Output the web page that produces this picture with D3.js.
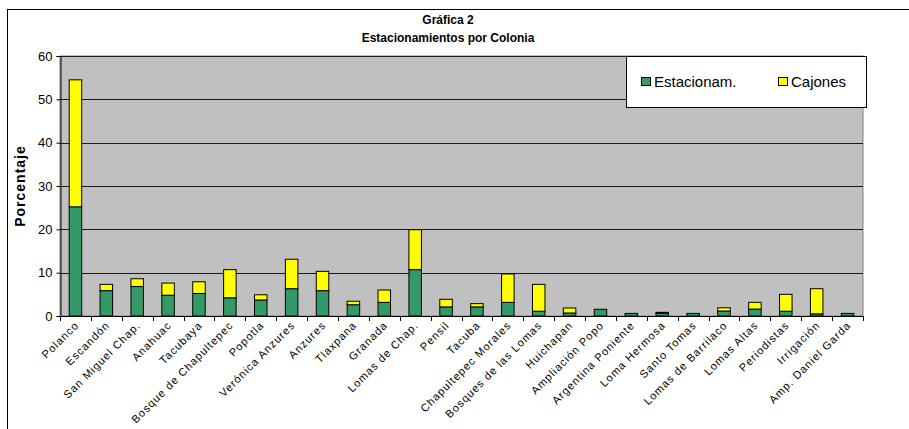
<!DOCTYPE html>
<html>
<head>
<meta charset="utf-8">
<script src="https://cdn.jsdelivr.net/npm/d3@7"></script>
<style>
  html, body { margin: 0; padding: 0; background: #fff; }
  svg { display: block; font-family: Arial, "Liberation Sans", sans-serif; }
</style>
</head>
<body>
<svg id="chart" width="909" height="429"></svg>
<script>
// Colonias (categories)
const colonias = [
  "Polanco", "Escandón", "San Miguel Chap.", "Anahuac", "Tacubaya",
  "Bosque de Chapultepec", "Popotla", "Verónica Anzures", "Anzures", "Tlaxpana",
  "Granada", "Lomas de Chap.", "Pensil", "Tacuba", "Chapultepec Morales",
  "Bosques de las Lomas", "Huichapan", "Ampliación Popo", "Argentina Poniente",
  "Loma Hermosa", "Santo Tomas", "Lomas de Barrilaco", "Lomas Altas",
  "Periodistas", "Irrigación", "Amp. Daniel Garda"
];
// Porcentaje de estacionamientos
const estacionam = [25.2, 5.85, 6.8, 4.8, 5.2, 4.2, 3.7, 6.3, 5.85, 2.6,
  3.15, 10.7, 2.1, 2.1, 3.15, 1.1, 0.7, 1.55, 0.6, 0.65,
  0.6, 1.15, 1.6, 1.1, 0.5, 0.6];
// Porcentaje de cajones
const cajones = [29.3, 1.45, 1.8, 2.8, 2.7, 6.5, 1.2, 6.8, 4.45, 0.8,
  2.85, 9.2, 1.75, 0.75, 6.55, 6.2, 1.15, 0, 0, 0.2,
  0, 0.75, 1.55, 3.9, 5.8, 0];
const yTicks = [0, 10, 20, 30, 40, 50, 60];
const seriesNames = ["Estacionam.", "Cajones"];
const seriesColors = ["#339966", "#FFFF00"];

const svg = d3.select("#chart");

// outer chart frame
svg.append("rect")
  .attr("x", 7.5).attr("y", 9.5)
  .attr("width", 1000).attr("height", 1000)
  .attr("fill", "#fff").attr("stroke", "#000").attr("stroke-width", 1);

const plot = { left: 60, right: 863, top: 56, bottom: 316 };

const x = d3.scaleBand().domain(colonias).range([plot.left, plot.right]).paddingInner(0).paddingOuter(0);
const y = d3.scaleLinear().domain([0, 60]).range([plot.bottom, plot.top]);
const barW = x.bandwidth() * 0.405;

// plot background
svg.append("rect")
  .attr("x", plot.left).attr("y", plot.top)
  .attr("width", plot.right - plot.left).attr("height", plot.bottom - plot.top)
  .attr("fill", "#C0C0C0").attr("stroke", "#808080");

// gridlines
svg.append("g").selectAll("line").data(yTicks.filter(d => d > 0)).join("line")
  .attr("x1", plot.left).attr("x2", plot.right)
  .attr("y1", d => Math.round(y(d)) + 0.5).attr("y2", d => Math.round(y(d)) + 0.5)
  .attr("stroke", "#1a1a1a").attr("stroke-width", 1);

// stacked data
const rows = colonias.map((c, i) => ({ colonia: c, estacionam: estacionam[i], cajones: cajones[i] }));
const stack = d3.stack().keys(["estacionam", "cajones"])(rows);

svg.append("g").selectAll("g").data(stack).join("g")
  .attr("fill", (d, i) => seriesColors[i])
  .selectAll("rect").data(d => d.filter(s => s[1] - s[0] > 0)).join("rect")
  .attr("x", d => x(d.data.colonia) + (x.bandwidth() - barW) / 2)
  .attr("width", barW)
  .attr("y", d => y(d[1]))
  .attr("height", d => y(d[0]) - y(d[1]))
  .attr("stroke", "#000").attr("stroke-width", 1);

// y axis
const yAxis = d3.axisLeft(y).tickValues(yTicks).tickSize(4).tickPadding(4);
const gy = svg.append("g").attr("transform", `translate(${plot.left + 0.5},0)`).call(yAxis);
gy.select(".domain").attr("stroke", "#000");
gy.selectAll(".tick line").attr("stroke", "#000");
gy.selectAll(".tick text").attr("font-size", 13).attr("fill", "#000")
  .attr("font-family", "Arial, 'Liberation Sans', sans-serif");

// x axis: ticks at category boundaries
const gx = svg.append("g");
gx.append("line")
  .attr("x1", plot.left).attr("x2", plot.right)
  .attr("y1", plot.bottom + 0.5).attr("y2", plot.bottom + 0.5)
  .attr("stroke", "#000");
const bounds = colonias.map(c => x(c)).concat([plot.right]);
gx.selectAll("line.tk").data(bounds).join("line").attr("class", "tk")
  .attr("x1", d => Math.round(d) + 0.5).attr("x2", d => Math.round(d) + 0.5)
  .attr("y1", plot.bottom).attr("y2", plot.bottom + 5)
  .attr("stroke", "#000");
gx.selectAll("text").data(colonias).join("text")
  .attr("transform", d => `translate(${x(d) + x.bandwidth() / 2 + 4},${plot.bottom + 10}) rotate(-45)`)
  .attr("text-anchor", "end")
  .attr("font-size", 11)
  .attr("letter-spacing", 1)
  .attr("fill", "#000")
  .text(d => d);

// y axis title
svg.append("text")
  .attr("transform", `translate(25,${(plot.top + plot.bottom) / 2}) rotate(-90)`)
  .attr("text-anchor", "middle")
  .attr("font-size", 14).attr("font-weight", "bold").attr("letter-spacing", 1)
  .text("Porcentaje");

// titles
svg.append("text").attr("x", 448).attr("y", 24).attr("text-anchor", "middle")
  .attr("font-size", 12).attr("font-weight", "bold").text("Gráfica 2");
svg.append("text").attr("x", 448).attr("y", 42).attr("text-anchor", "middle")
  .attr("font-size", 12).attr("font-weight", "bold").text("Estacionamientos por Colonia");

// legend
const lg = svg.append("g");
lg.append("rect").attr("x", 626.5).attr("y", 56.5).attr("width", 240).attr("height", 51)
  .attr("fill", "#fff").attr("stroke", "#000");
const legendX = [641, 778];
seriesNames.forEach((name, i) => {
  lg.append("rect").attr("x", legendX[i] + 0.5).attr("y", 77.5).attr("width", 9).attr("height", 8)
    .attr("fill", seriesColors[i]).attr("stroke", "#000");
  lg.append("text").attr("x", legendX[i] + 13).attr("y", 87)
    .attr("font-size", 15).text(name);
});
</script>
</body>
</html>
